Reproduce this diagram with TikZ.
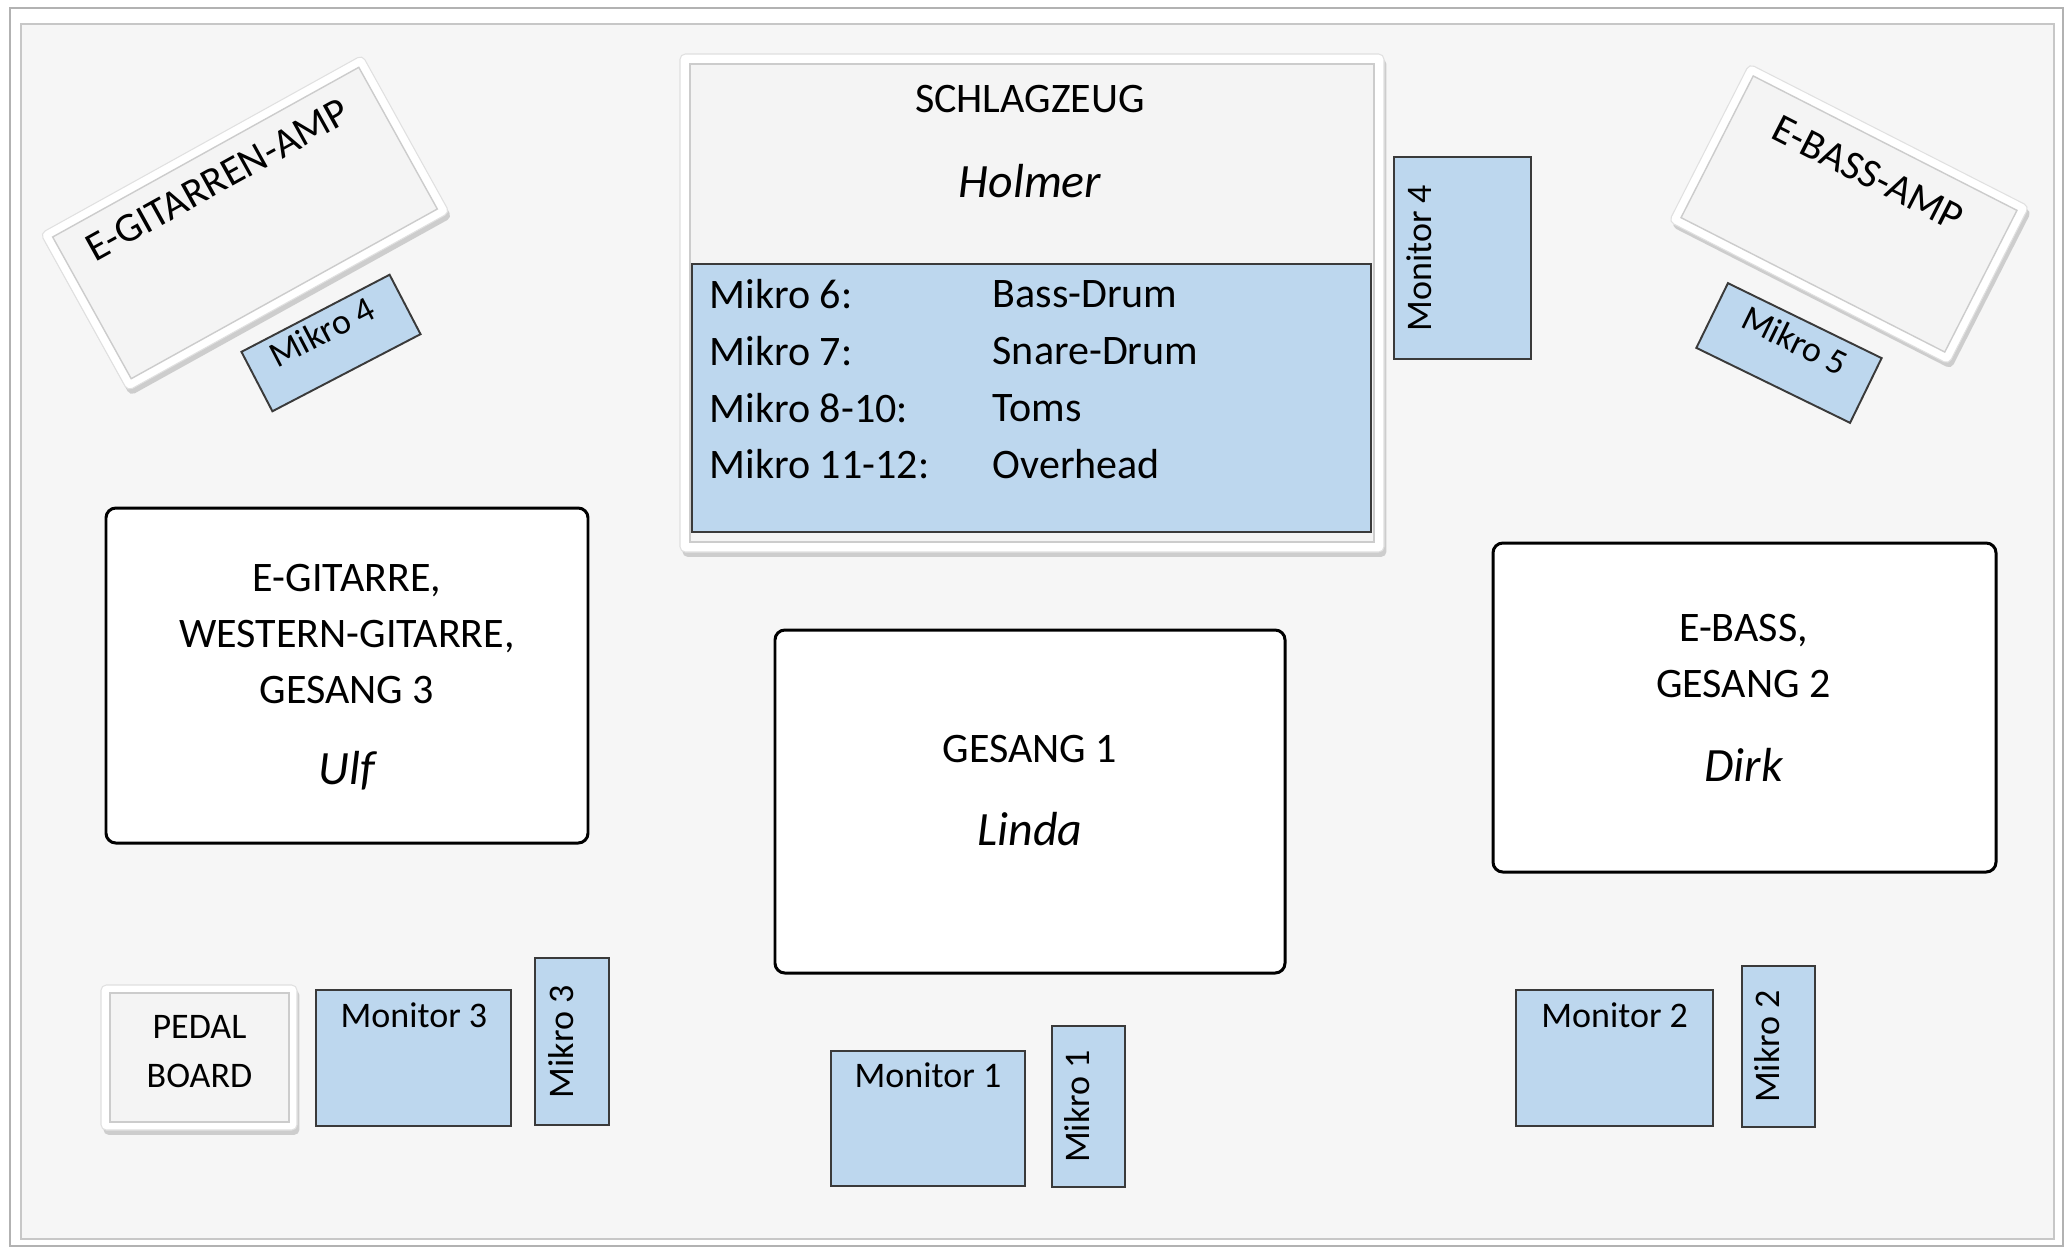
\documentclass[tikz,border=0pt]{standalone}
\usepackage{fontspec}
\setmainfont{Carlito}
\usetikzlibrary{shadows}
\definecolor{bgc}{HTML}{F6F6F6}
\definecolor{micc}{HTML}{BDD7EE}
\definecolor{bevelc}{HTML}{F4F4F4}
\definecolor{edgec}{HTML}{3A3A3A}
\begin{document}
\begin{tikzpicture}[x=0.01cm,y=-0.01cm,
  txt/.style={font=\fontsize{11.95}{15.9}\selectfont, inner sep=0pt, align=center},
  amptxt/.style={font=\fontsize{11.7}{15.9}\selectfont, inner sep=0pt, align=center},
  smalltxt/.style={font=\fontsize{10.24}{13.9}\selectfont, inner sep=0pt, align=center},
  nametxt/.style={font=\fontsize{13.6}{16}\selectfont\itshape, inner sep=0pt},
  micbox/.style={fill=micc, draw=edgec, line width=0.55pt},
  whitebox/.style={fill=white, draw=black, line width=0.85pt, rounded corners=2.8pt},
  bevelouter/.style={fill=white, draw=black!12, line width=0.3pt, rounded corners=1.5pt,
     drop shadow={shadow xshift=0.7pt, shadow yshift=-1.4pt, opacity=0.28, fill=black!60}},
  bevelinner/.style={fill=bevelc, draw=black!20, line width=0.4pt}]
\useasboundingbox (0,0) rectangle (2071,1248);
\fill[white] (0,0) rectangle (2071,1248);
% stage frame
\draw[draw=black!30, fill=white, line width=0.5pt] (10,8) rectangle (2063,1246);
\draw[draw=black!22, fill=bgc, line width=0.8pt] (21,24) rectangle (2054,1239);

% drum riser
\draw[bevelouter] (680,54) rectangle (1384,552);
\draw[bevelinner] (690,64) rectangle (1374,542);
\draw[micbox] (692,264) rectangle (1371,532);
\node[txt] (schlag) at (1030,99) {SCHLAGZEUG};
\node[nametxt] (holmer) at (1030,181) {Holmer};
\node[txt, anchor=west] (m6) at (709,294.5) {Mikro 6:};
\node[txt, anchor=west] (m7) at (709,351.3) {Mikro 7:};
\node[txt, anchor=west] (m8) at (709,408) {Mikro 8-10:};
\node[txt, anchor=west] (m11) at (709,463.6) {Mikro 11-12:};
\node[txt, anchor=west] (bd) at (992,294.5) {Bass-Drum};
\node[txt, anchor=west] (sd) at (992,351.3) {Snare-Drum};
\node[txt, anchor=west] (toms) at (992,408) {Toms};
\node[txt, anchor=west] (oh) at (992,463.6) {Overhead};

% Monitor 4
\draw[micbox] (1394,157) rectangle (1531,359);
\node[smalltxt, rotate=90] (mon4) at (1419.5,258) {Monitor 4};

% guitar amp
\begin{scope}[shift={(245,223)}, rotate=29]
  \draw[bevelouter] (-184,-90) rectangle (184,90);
  \draw[bevelinner] (-175,-81) rectangle (175,81);
  \node[amptxt, transform shape] (gamp) at (-3,-51) {E-GITARREN-AMP};
\end{scope}
\begin{scope}[shift={(331,343)}, rotate=27.5]
  \draw[micbox] (-83.5,-33.5) rectangle (83.5,33.5);
  \node[smalltxt, transform shape] (mik4) at (-3,-14) {Mikro 4};
\end{scope}

% bass amp
\begin{scope}[shift={(1849,214)}, rotate=-27]
  \draw[bevelouter] (-157,-88.5) rectangle (157,88.5);
  \draw[bevelinner] (-148,-79.5) rectangle (148,79.5);
  \node[amptxt, transform shape] (bamp) at (-1.5,-45) {E-BASS-AMP};
\end{scope}
\begin{scope}[shift={(1789,353)}, rotate=-26]
  \draw[micbox] (-85.5,-36) rectangle (85.5,36);
  \node[smalltxt, transform shape] (mik5) at (0,-14) {Mikro 5};
\end{scope}

% Ulf
\draw[whitebox] (106,508) rectangle (588,843);
\node[txt] (ulfrole) at (347,634) {E-GITARRE,\\WESTERN-GITARRE,\\GESANG 3};
\node[nametxt] (ulf) at (347,771) {Ulf};

% Linda
\draw[whitebox] (775,630) rectangle (1285,973);
\node[txt] (lindarole) at (1030,749) {GESANG 1};
\node[nametxt] (linda) at (1030,829.5) {Linda};

% Dirk
\draw[whitebox] (1493,543) rectangle (1996,872);
\node[txt] (dirkrole) at (1743.5,656) {E-BASS,\\GESANG 2};
\node[nametxt] (dirk) at (1743.5,765) {Dirk};

% pedal board
\draw[bevelouter] (101,985) rectangle (297,1130);
\draw[bevelinner] (110,993) rectangle (289,1122);
\node[smalltxt] (pedal) at (199.5,1052) {PEDAL\\BOARD};

% monitors and mics
\draw[micbox] (316,990) rectangle (511,1126);
\node[smalltxt] (mon3) at (414,1015) {Monitor 3};
\draw[micbox] (535,958) rectangle (609,1125);
\node[smalltxt, rotate=90] (mik3) at (561.5,1042) {Mikro 3};

\draw[micbox] (831,1051) rectangle (1025,1186);
\node[smalltxt] (mon1) at (928,1075) {Monitor 1};
\draw[micbox] (1052,1026) rectangle (1125,1187);
\node[smalltxt, rotate=90] (mik1) at (1077.5,1106.5) {Mikro 1};

\draw[micbox] (1516,990) rectangle (1713,1126);
\node[smalltxt] (mon2) at (1614.7,1015) {Monitor 2};
\draw[micbox] (1742,966) rectangle (1815,1127);
\node[smalltxt, rotate=90] (mik2) at (1767.5,1046.5) {Mikro 2};
\end{tikzpicture}
\end{document}
